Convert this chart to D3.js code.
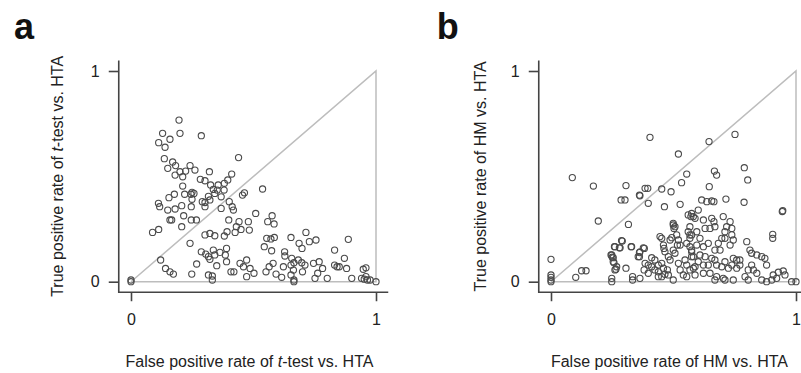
<!DOCTYPE html>
<html>
<head>
<meta charset="utf-8">
<script src="https://cdnjs.cloudflare.com/ajax/libs/d3/7.8.5/d3.min.js"></script>
<style>
  body { margin: 0; background: #fff; }
  svg { display: block; font-family: "Liberation Sans", Arial, sans-serif; }
</style>
</head>
<body>
<div id="chart"></div>
<script>
// [false positive rate, true positive rate] pairs
const ttestPoints = [
  [0.196,0.767],[0.200,0.704],[0.129,0.704],[0.159,0.676],[0.113,0.660],[0.139,0.638],[0.287,0.693],
  [0.439,0.589],[0.136,0.584],[0.170,0.568],[0.150,0.538],[0.182,0.551],[0.180,0.506],[0.211,0.498],
  [0.200,0.522],[0.223,0.525],[0.241,0.551],[0.261,0.530],[0.320,0.522],[0.411,0.511],[0.395,0.483],
  [0.283,0.486],[0.302,0.479],[0.211,0.454],[0.325,0.459],[0.356,0.459],[0.381,0.467],[0.336,0.438],
  [0.380,0.435],[0.249,0.424],[0.219,0.415],[0.245,0.415],[0.257,0.419],[0.177,0.415],[0.155,0.399],
  [0.112,0.372],[0.117,0.356],[0.150,0.340],[0.180,0.345],[0.207,0.361],[0.249,0.391],[0.246,0.356],
  [0.291,0.380],[0.302,0.376],[0.316,0.405],[0.322,0.388],[0.342,0.419],[0.352,0.435],[0.368,0.403],
  [0.401,0.380],[0.413,0.356],[0.418,0.340],[0.463,0.422],[0.455,0.411],[0.537,0.440],[0.368,0.348],
  [0.302,0.356],[0.215,0.313],[0.246,0.293],[0.267,0.293],[0.159,0.293],[0.166,0.293],[0.088,0.234],
  [0.113,0.248],[0.207,0.261],[0.399,0.293],[0.441,0.285],[0.479,0.285],[0.509,0.324],[0.576,0.313],
  [0.558,0.285],[0.584,0.274],[0.430,0.261],[0.449,0.248],[0.483,0.245],[0.302,0.222],[0.322,0.229],
  [0.342,0.218],[0.381,0.217],[0.392,0.237],[0.425,0.234],[0.241,0.182],[0.554,0.206],[0.571,0.203],
  [0.585,0.210],[0.653,0.210],[0.714,0.234],[0.686,0.182],[0.728,0.190],[0.755,0.198],[0.887,0.201],
  [0.544,0.166],[0.574,0.147],[0.627,0.142],[0.698,0.158],[0.831,0.150],[0.287,0.142],[0.305,0.131],
  [0.336,0.150],[0.342,0.127],[0.316,0.119],[0.363,0.139],[0.390,0.158],[0.385,0.127],[0.322,0.106],
  [0.121,0.103],[0.268,0.084],[0.350,0.076],[0.390,0.095],[0.472,0.103],[0.445,0.087],[0.459,0.071],
  [0.486,0.063],[0.502,0.040],[0.580,0.087],[0.564,0.071],[0.622,0.071],[0.592,0.036],[0.615,0.021],
  [0.628,0.122],[0.656,0.111],[0.665,0.090],[0.683,0.103],[0.697,0.090],[0.710,0.079],[0.653,0.079],
  [0.663,0.055],[0.653,0.032],[0.665,0.008],[0.665,0.000],[0.700,0.047],[0.745,0.087],[0.768,0.095],
  [0.782,0.063],[0.762,0.040],[0.751,0.016],[0.801,0.016],[0.831,0.079],[0.841,0.071],[0.850,0.071],
  [0.871,0.111],[0.880,0.063],[0.901,0.016],[0.948,0.059],[0.959,0.066],[0.941,0.016],[0.959,0.024],
  [0.965,0.008],[0.976,0.008],[1.000,0.000],[0.952,0.012],[0.141,0.063],[0.159,0.047],[0.173,0.036],
  [0.248,0.036],[0.316,0.032],[0.332,0.027],[0.332,0.008],[0.408,0.047],[0.420,0.047],[0.472,0.024],
  [0.551,0.047],[0.000,0.008],[0.000,0.000]
];

const hmPoints = [
  [0.404,0.685],[0.645,0.665],[0.751,0.699],[0.520,0.606],[0.087,0.494],[0.173,0.454],[0.306,0.456],
  [0.361,0.411],[0.384,0.443],[0.395,0.443],[0.452,0.440],[0.490,0.427],[0.397,0.372],[0.363,0.408],
  [0.463,0.356],[0.527,0.367],[0.554,0.511],[0.533,0.470],[0.667,0.525],[0.676,0.506],[0.646,0.451],
  [0.789,0.541],[0.803,0.483],[0.788,0.377],[0.714,0.392],[0.615,0.388],[0.636,0.380],[0.656,0.383],
  [0.665,0.380],[0.286,0.388],[0.302,0.388],[0.193,0.288],[0.316,0.272],[0.946,0.337],[0.944,0.333],
  [0.905,0.225],[0.905,0.206],
  [0.000,0.106],[0.000,0.032],[0.000,0.021],[0.000,0.008],[0.000,0.000],[0.101,0.021],[0.125,0.052],
  [0.143,0.052],[0.248,0.016],[0.248,0.000],[0.333,0.024],[0.333,0.008],[0.363,0.016],[0.245,0.127],
  [0.250,0.116],[0.254,0.095],[0.259,0.166],[0.282,0.161],[0.288,0.195],[0.327,0.166],[0.361,0.138],
  [0.356,0.119],[0.381,0.158],[0.265,0.059],[0.268,0.071],[0.306,0.064],[0.261,0.056],
  [0.560,0.317],[0.571,0.309],[0.567,0.261],[0.499,0.269],[0.502,0.253],[0.445,0.214],[0.452,0.206],
  [0.493,0.209],[0.513,0.222],[0.567,0.206],[0.291,0.193],[0.261,0.166],[0.279,0.161],[0.329,0.166],
  [0.377,0.161],[0.363,0.142],[0.361,0.119],[0.248,0.127],[0.254,0.114],[0.257,0.090],[0.411,0.114],
  [0.424,0.103],[0.397,0.079],[0.411,0.071],[0.384,0.087],[0.380,0.056],[0.397,0.040],[0.424,0.056],
  [0.438,0.047],[0.438,0.079],[0.452,0.087],[0.459,0.064],[0.475,0.056],[0.465,0.035],[0.479,0.032],
  [0.438,0.024],[0.452,0.024],[0.499,0.008],[0.479,0.119],[0.486,0.103],[0.465,0.142],[0.459,0.174],
  [0.461,0.158],[0.499,0.150],[0.506,0.135],[0.520,0.087],[0.527,0.056],[0.547,0.103],[0.554,0.079],
  [0.540,0.032],[0.554,0.024],[0.567,0.056],[0.581,0.064],[0.516,0.174],[0.527,0.174],[0.554,0.182],
  [0.567,0.166],[0.574,0.142],[0.560,0.237],[0.567,0.222],[0.486,0.198],[0.520,0.198],[0.499,0.277],
  [0.506,0.261],[0.574,0.324],[0.581,0.309],
  [0.601,0.340],[0.588,0.301],[0.622,0.293],[0.656,0.301],[0.665,0.285],[0.629,0.253],[0.595,0.237],
  [0.574,0.222],[0.608,0.206],[0.649,0.253],[0.669,0.261],[0.717,0.261],[0.738,0.253],[0.703,0.309],
  [0.731,0.285],[0.710,0.237],[0.738,0.222],[0.697,0.206],[0.710,0.206],[0.731,0.174],[0.744,0.198],
  [0.799,0.190],[0.812,0.150],[0.819,0.135],[0.840,0.127],[0.860,0.119],[0.873,0.111],[0.880,0.079],
  [0.771,0.103],[0.758,0.103],[0.771,0.079],[0.758,0.064],[0.819,0.079],[0.805,0.056],[0.826,0.056],
  [0.840,0.040],[0.860,0.008],[0.880,0.000],[0.907,0.032],[0.928,0.045],[0.948,0.051],[0.955,0.032],
  [0.901,0.008],[0.921,0.016],[0.982,0.000],[1.000,0.000],[0.744,0.111],[0.738,0.079],[0.724,0.064],
  [0.710,0.095],[0.697,0.071],[0.676,0.079],[0.669,0.103],[0.656,0.111],[0.629,0.119],[0.608,0.127],
  [0.581,0.119],[0.601,0.095],[0.622,0.079],[0.642,0.079],[0.588,0.071],[0.588,0.032],[0.622,0.040],
  [0.649,0.040],[0.676,0.024],[0.703,0.016],[0.669,0.008],[0.710,0.008],[0.744,0.008],[0.792,0.024],
  [0.805,0.008],[0.595,0.174],[0.622,0.166],[0.642,0.182],[0.669,0.150],[0.574,0.150],[0.574,0.119],
  [0.683,0.182],[0.690,0.150]
];

const axisTicks = [0, 1];
const panelLetters = ['a', 'b'];
const xTitles = [['False positive rate of ', 't', '-test vs. HTA'], ['False positive rate of HM vs. HTA']];
const yTitles = [['True positive rate of ', 't', '-test vs. HTA'], ['True positive rate of HM vs. HTA']];

const width = 801, height = 373;
const pad = 0.05; // R-style axis extension

const svg = d3.select('#chart')
  .append('svg')
  .attr('width', width)
  .attr('height', height);

// one plot per panel, only its left offset differs
const panels = [
  { offset: 0, points: ttestPoints },
  { offset: 420, points: hmPoints }
];

panels.forEach((p, i) => {
  const g = svg.append('g').attr('transform', `translate(${p.offset},0)`);

  const x = d3.scaleLinear().domain([0, 1]).range([131, 376]);
  const y = d3.scaleLinear().domain([0, 1]).range([281.7, 71]);

  const left = x(-pad), right = x(1 + pad);
  const top = y(1 + pad), bottom = y(-pad);

  // gray reference triangle
  g.append('path')
    .attr('d', d3.line()([[x(0), y(0)], [x(1), y(1)], [x(1), y(0)], [x(0), y(0)]]))
    .attr('fill', 'none')
    .attr('stroke', '#bdbdbd')
    .attr('stroke-width', 1.5);

  // points
  g.append('g')
    .selectAll('circle')
    .data(p.points)
    .enter().append('circle')
    .attr('cx', d => x(d[0]))
    .attr('cy', d => y(d[1]))
    .attr('r', 3.1)
    .attr('fill', 'none')
    .attr('stroke', '#4a4a4a')
    .attr('stroke-width', 1.1);

  // L-shaped frame
  g.append('path')
    .attr('d', `M${left},${top}V${bottom}H${right}`)
    .attr('fill', 'none')
    .attr('stroke', '#444')
    .attr('stroke-width', 1.6);

  const xAxis = g.append('g')
    .attr('transform', `translate(0,${bottom})`)
    .call(d3.axisBottom(x).tickValues(axisTicks).tickFormat(d3.format('d'))
      .tickSize(9).tickPadding(12).tickSizeOuter(0));
  const yAxis = g.append('g')
    .attr('transform', `translate(${left},0)`)
    .call(d3.axisLeft(y).tickValues(axisTicks).tickFormat(d3.format('d'))
      .tickSize(10).tickPadding(9).tickSizeOuter(0));

  [xAxis, yAxis].forEach(a => {
    a.select('.domain').remove();
    a.selectAll('.tick line').attr('stroke', '#444').attr('stroke-width', 1.6);
    a.selectAll('.tick text').attr('fill', '#222').style('font-size', '16px').style('font-family', null);
  });

  // axis titles, t in italics
  const xt = g.append('text')
    .attr('x', (x(0) + x(1)) / 2 - 4)
    .attr('y', 367)
    .attr('text-anchor', 'middle')
    .attr('fill', '#222')
    .style('font-size', '16px');
  xTitles[i].forEach(s => xt.append('tspan').text(s).style('font-style', s === 't' ? 'italic' : null));

  const yt = g.append('text')
    .attr('transform', `translate(${i === 0 ? 63 : 66},${(y(0) + y(1)) / 2}) rotate(-90)`)
    .attr('text-anchor', 'middle')
    .attr('fill', '#222')
    .style('font-size', '16px');
  yTitles[i].forEach(s => yt.append('tspan').text(s).style('font-style', s === 't' ? 'italic' : null));

  // panel letter
  g.append('text')
    .attr('x', i === 0 ? 14 : 16.7)
    .attr('y', 39)
    .attr('fill', '#111')
    .style('font-size', '36px')
    .style('font-weight', 'bold')
    .text(panelLetters[i]);
});
</script>
</body>
</html>
